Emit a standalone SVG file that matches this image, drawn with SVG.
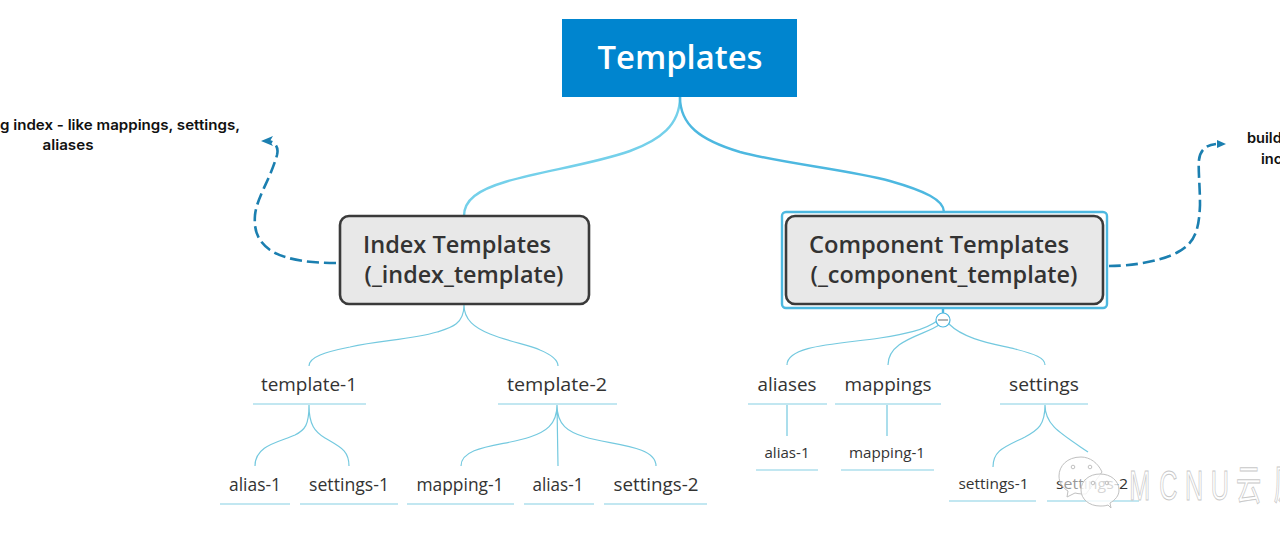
<svg xmlns="http://www.w3.org/2000/svg" width="1280" height="545" viewBox="0 0 1280 545">
<style>
text{font-family:"Open Sans","Noto Sans",sans-serif;fill:#333;text-anchor:middle}
.l2{font-size:22.5px;font-weight:600}
.l3{font-size:18px;font-weight:500}
.l4{font-size:17.5px;font-weight:500}
.l5{font-size:14.5px;font-weight:500}
.note{font-family:"Inter","Liberation Sans",sans-serif;font-size:14.6px;font-weight:600;fill:#111}
.box{fill:#e8e8e8;stroke:#3a3a3a;stroke-width:2.6}
.c{fill:none;stroke:#74c9df;stroke-width:1.2}
.u{fill:none;stroke:#86cfe3;stroke-width:1.2}
.t{fill:none;stroke-width:2.4}
.d{fill:none;stroke:#1b7fb0;stroke-width:2.6;stroke-dasharray:12 5}
.wm{font-family:"Liberation Sans","Noto Sans CJK SC",sans-serif;font-size:42px;fill:#fff;stroke:#c8c8c8;stroke-width:1;text-anchor:start}
</style>
<g id="connectors">
<path class="t" stroke="#74d0ea" d="M680 97C680 125 660 140 630 151C590 165 540 171 505 182C478 190 464 200 464 216"/>
<path class="t" stroke="#4db8e0" d="M680 97C680 125 700 140 740 152C780 163 850 170 890 181C925 191 944 200 944 212"/>
<path class="c" d="M464 305C464 325 450 328 437 332C410 340 380 340 350 347C325 352 309 357 309 366M464 305C464 320 475 328 490 334C510 342 530 345 540 350C552 355 558 360 558 366"/>
<path class="c" d="M309 405C309 425 305 430 295 435C280 442 255 445 255 466M309 405C309 425 315 432 325 438C340 447 349 450 349 466"/>
<path class="c" d="M557 405C557 425 545 432 530 437C505 446 461 445 461 466M557 405L558 466M557 405C557 425 568 432 585 437C610 445 656 445 656 466"/>
<path d="M943 308V313" stroke="#4db8e0" stroke-width="2.4" fill="none"/>
<path class="c" d="M937 321C925 330 905 334 880 338C840 344 787 345 787 365M939 325C925 335 888 340 888 365M949 324C965 340 995 344 1015 349C1035 354 1045 358 1045 365"/>
<path class="c" d="M787 405V436M887 405V436"/>
<path class="c" d="M1045 405C1045 425 1038 430 1025 437C1005 447 993 450 993 467M1045 405C1045 425 1060 433 1088 452"/>
<path class="d" d="M336 263C310 263 285 260 270 250C256 240 254 228 255 215C257 197 270 180 277 155C279 147 275 142 268 141"/>
<path class="d" d="M1109 266C1130 266 1160 262 1178 252C1195 243 1199 230 1200 205C1200 185 1198 170 1199 160C1200 150 1206 145 1216 144"/>
<path d="M261 141L273 136L270 141L273 146Z" fill="#1b7fb0"/>
<path d="M1217 140L1226 144L1217 148Z" fill="#1b7fb0"/>
</g>
<g id="root"><rect x="562" y="19" width="235" height="78" fill="#0085cf"/><text x="680" y="69" textLength="165" lengthAdjust="spacingAndGlyphs" style="font-size:32px;font-weight:600;fill:#fff">Templates</text></g>
<g id="index-templates"><rect class="box" x="340" y="216" width="249" height="88" rx="9"/><text class="l2" x="457" y="253" textLength="188" lengthAdjust="spacingAndGlyphs">Index Templates</text><text class="l2" x="464" y="283" textLength="199" lengthAdjust="spacingAndGlyphs">(_index_template)</text></g>
<g id="component-templates"><rect x="782" y="212" width="325" height="96" rx="4" fill="none" stroke="#4db8e0" stroke-width="2.4"/><rect class="box" x="786" y="216" width="317" height="88" rx="9"/><text class="l2" x="939" y="253" textLength="260" lengthAdjust="spacingAndGlyphs">Component Templates</text><text class="l2" x="944" y="283" textLength="267" lengthAdjust="spacingAndGlyphs">(_component_template)</text></g>
<g id="collapse"><circle cx="943" cy="320" r="7" fill="#fff" stroke="#4db8e0" stroke-width="1.2"/><path d="M938 320H948" stroke="#666" stroke-width="1"/></g>
<g id="note-left"><text class="note" x="0" y="130" textLength="240" lengthAdjust="spacingAndGlyphs" style="text-anchor:start">g index - like mappings, settings,</text><text class="note" x="68" y="150" textLength="51" lengthAdjust="spacingAndGlyphs">aliases</text></g>
<g id="note-right"><text class="note" x="1247" y="143" style="text-anchor:start">build</text><text class="note" x="1261" y="164" style="text-anchor:start">inc</text></g>
<g id="template-1"><text class="l3" x="309" y="391" textLength="96" lengthAdjust="spacingAndGlyphs">template-1</text><path class="u" d="M253 404H366"/></g>
<g id="template-2"><text class="l3" x="557" y="391" textLength="100" lengthAdjust="spacingAndGlyphs">template-2</text><path class="u" d="M498 404H617"/></g>
<g id="aliases"><text class="l3" x="787" y="391" textLength="59" lengthAdjust="spacingAndGlyphs">aliases</text><path class="u" d="M748 404H827"/></g>
<g id="mappings"><text class="l3" x="888" y="391" textLength="87" lengthAdjust="spacingAndGlyphs">mappings</text><path class="u" d="M835 404H941"/></g>
<g id="settings"><text class="l3" x="1044" y="391" textLength="70" lengthAdjust="spacingAndGlyphs">settings</text><path class="u" d="M1000 404H1088"/></g>
<g id="t1-alias"><text class="l4" x="255" y="491" textLength="52" lengthAdjust="spacingAndGlyphs">alias-1</text><path class="u" d="M220 504H290"/></g>
<g id="t1-settings"><text class="l4" x="349" y="491" textLength="80" lengthAdjust="spacingAndGlyphs">settings-1</text><path class="u" d="M300 504H398"/></g>
<g id="t2-mapping"><text class="l4" x="460" y="491" textLength="87" lengthAdjust="spacingAndGlyphs">mapping-1</text><path class="u" d="M407 504H514"/></g>
<g id="t2-alias"><text class="l4" x="558" y="491" textLength="51" lengthAdjust="spacingAndGlyphs">alias-1</text><path class="u" d="M524 504H594"/></g>
<g id="t2-settings"><text class="l4" x="656" y="491" textLength="85" lengthAdjust="spacingAndGlyphs">settings-2</text><path class="u" d="M604 504H707"/></g>
<g id="alias-1"><text class="l5" x="787" y="458" textLength="45" lengthAdjust="spacingAndGlyphs">alias-1</text><path class="u" d="M756 470H818"/></g>
<g id="mapping-1"><text class="l5" x="887" y="458" textLength="76" lengthAdjust="spacingAndGlyphs">mapping-1</text><path class="u" d="M841 470H934"/></g>
<g id="settings-1"><text class="l5" x="993.500" y="489" textLength="70" lengthAdjust="spacingAndGlyphs">settings-1</text><path class="u" d="M949 501H1036"/></g>
<g id="settings-2"><text class="l5" x="1092" y="489" textLength="72" lengthAdjust="spacingAndGlyphs">settings-2</text><path class="u" d="M1047 501H1139"/></g>
<g id="watermark" fill="#fff" fill-opacity=".8" stroke="#c0c0c0" stroke-width="1">
<path d="M1081 457C1067 457 1059 466 1059 476C1059 483 1063 488 1068 491L1067 497L1075 493C1079 494 1083 494 1086 494L1102 472C1098 463 1090 457 1081 457Z" fill-opacity=".5"/>
<path d="M1100 474C1089 474 1081 481 1081 490C1081 499 1089 506 1100 506C1103 506 1105 506 1108 505L1111 508L1110 503C1115 500 1119 496 1119 490C1119 481 1111 474 1100 474Z"/>
<circle cx="1073" cy="467" r="1.800" fill="none"/><circle cx="1090" cy="467" r="1.800" fill="none"/><circle cx="1093" cy="483" r="1.800" fill="none"/><circle cx="1107" cy="483" r="1.800" fill="none"/>
<text class="wm" transform="scale(.6 1)" x="1882 1932 1975 2018 2060 2123" y="500">MCNU云原</text>
</g>
</svg>
